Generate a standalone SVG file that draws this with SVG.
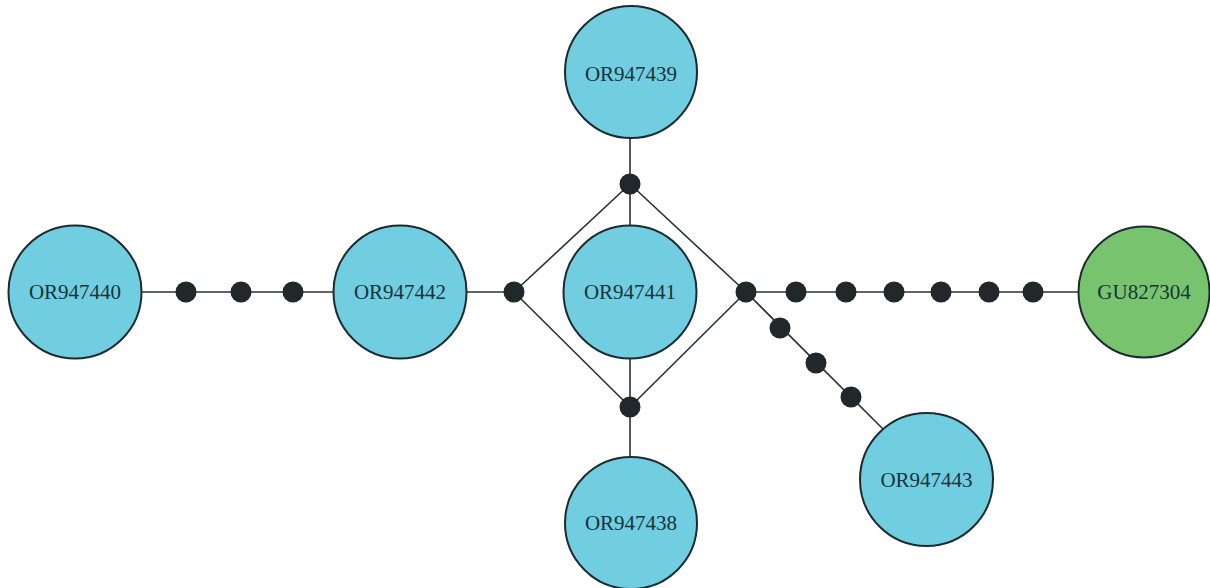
<svg xmlns="http://www.w3.org/2000/svg" width="1210" height="588" viewBox="0 0 1210 588">
<style>
.n{fill:#71cde0;stroke:#1d2b2f;stroke-width:2}
.g{fill:#78c46e;stroke:#1d2b2f;stroke-width:2}
.t{font-family:"Liberation Serif","Times New Roman",serif;font-size:21px;fill:#17343a;text-anchor:middle;dominant-baseline:central}
.e{stroke:#2a3134;stroke-width:1.6;fill:none}
.d{fill:#20282b}
</style>
<rect width="1210" height="588" fill="#ffffff"/>
<g id="connectors">
<line class="e" x1="142" y1="292" x2="333" y2="292"/>
<line class="e" x1="466" y1="292" x2="514" y2="292"/>
<line class="e" x1="630" y1="138" x2="630" y2="226"/>
<line class="e" x1="630" y1="358" x2="630" y2="457"/>
<line class="e" x1="514" y1="292" x2="630" y2="184"/>
<line class="e" x1="630" y1="184" x2="746" y2="292"/>
<line class="e" x1="746" y1="292" x2="630" y2="407"/>
<line class="e" x1="630" y1="407" x2="514" y2="292"/>
<line class="e" x1="746" y1="292" x2="1079" y2="292"/>
<line class="e" x1="746" y1="292" x2="883" y2="429"/>
</g>
<g id="dots">
<circle class="d" cx="186" cy="292" r="10.5"/>
<circle class="d" cx="241" cy="292" r="10.5"/>
<circle class="d" cx="293" cy="292" r="10.5"/>
<circle class="d" cx="514" cy="292" r="10.5"/>
<circle class="d" cx="630" cy="184" r="10.5"/>
<circle class="d" cx="746" cy="292" r="10.5"/>
<circle class="d" cx="630" cy="407" r="10.5"/>
<circle class="d" cx="796" cy="292" r="10.5"/>
<circle class="d" cx="846" cy="292" r="10.5"/>
<circle class="d" cx="894" cy="292" r="10.5"/>
<circle class="d" cx="941" cy="292" r="10.5"/>
<circle class="d" cx="989" cy="292" r="10.5"/>
<circle class="d" cx="1033" cy="292" r="10.5"/>
<circle class="d" cx="780" cy="328" r="10.5"/>
<circle class="d" cx="816" cy="363" r="10.5"/>
<circle class="d" cx="851" cy="397" r="10.5"/>
</g>
<g id="OR947440"><circle class="n" cx="75" cy="292" r="66.5"/><text class="t" x="75" y="292">OR947440</text></g>
<g id="OR947442"><circle class="n" cx="400" cy="292" r="66.5"/><text class="t" x="400" y="292">OR947442</text></g>
<g id="OR947441"><circle class="n" cx="630" cy="292" r="66.5"/><text class="t" x="630" y="292">OR947441</text></g>
<g id="OR947439"><circle class="n" cx="631" cy="72" r="66"/><text class="t" x="631" y="74">OR947439</text></g>
<g id="OR947438"><circle class="n" cx="631" cy="523" r="66"/><text class="t" x="631" y="523">OR947438</text></g>
<g id="GU827304"><circle class="g" cx="1144" cy="292" r="65.5"/><text class="t" x="1144" y="292">GU827304</text></g>
<g id="OR947443"><circle class="n" cx="926.5" cy="479.5" r="66.5"/><text class="t" x="926.5" y="480">OR947443</text></g>
</svg>
